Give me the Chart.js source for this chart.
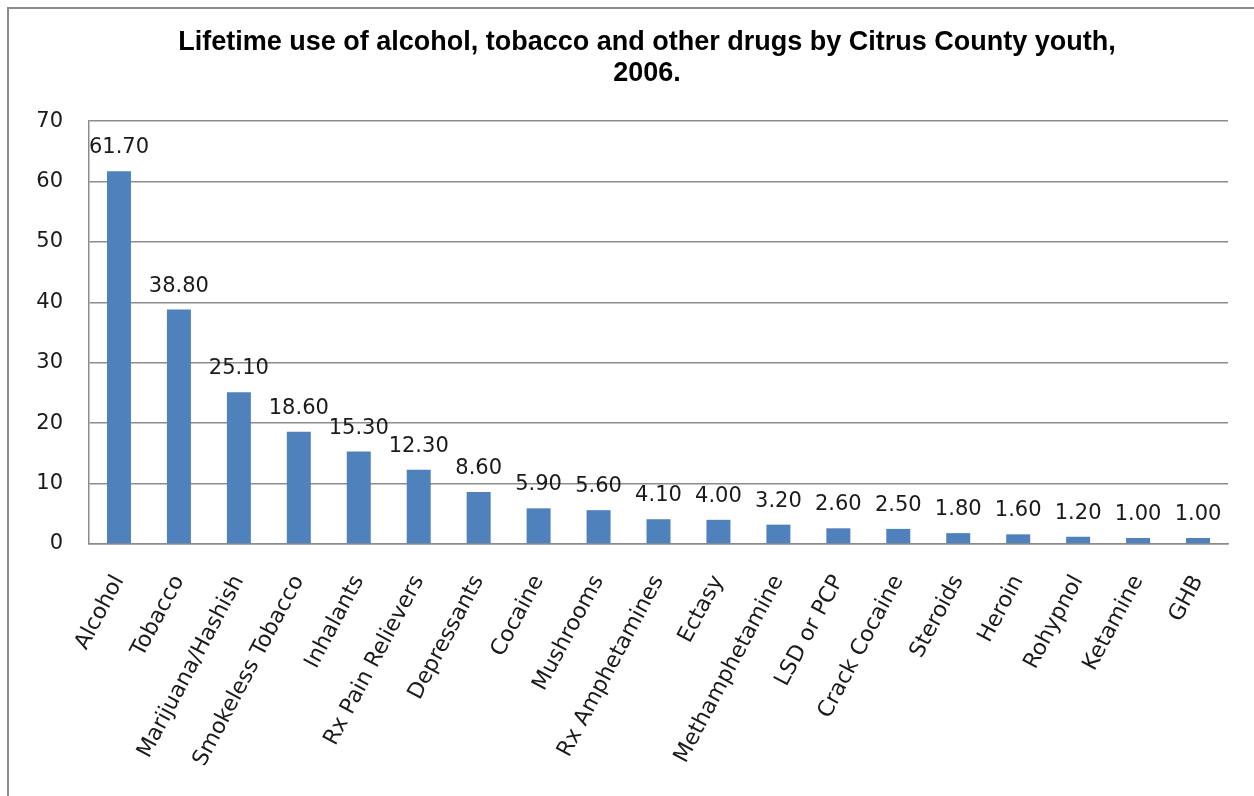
<!DOCTYPE html>
<html>
<head>
<meta charset="utf-8">
<script src="https://cdn.jsdelivr.net/npm/chart.js@4.4.1/dist/chart.umd.min.js"></script>
<style>
  html, body { margin: 0; padding: 0; background: #fff; overflow: hidden; }
  #frame {
    position: absolute; left: 7px; top: 7px;
    width: 1280px; height: 800px;
    border-left: 2px solid #8a8a8a; border-top: 2px solid #8a8a8a;
  }
  #wrap { position: absolute; left: 10px; top: 9px; width: 1274px; height: 787px; }
</style>
</head>
<body>
<div id="frame"></div>
<div id="wrap"><canvas id="myChart"></canvas></div>
<script>
const drugs = ['Alcohol', 'Tobacco', 'Marijuana/Hashish', 'Smokeless Tobacco', 'Inhalants',
  'Rx Pain Relievers', 'Depressants', 'Cocaine', 'Mushrooms', 'Rx Amphetamines', 'Ectasy',
  'Methamphetamine', 'LSD or PCP', 'Crack Cocaine', 'Steroids', 'Heroin', 'Rohypnol',
  'Ketamine', 'GHB'];
const lifetimeUse = [61.7, 38.8, 25.1, 18.6, 15.3, 12.3, 8.6, 5.9, 5.6, 4.1, 4.0, 3.2, 2.6,
  2.5, 1.8, 1.6, 1.2, 1.0, 1.0];
const yTicks = [0, 10, 20, 30, 40, 50, 60, 70];

const gridGray = '#8c8c8c';

// value labels above each bar
const barLabels = {
  id: 'barLabels',
  afterDatasetsDraw(chart) {
    const c = chart.ctx;
    const meta = chart.getDatasetMeta(0);
    c.save();
    c.font = '21px "DejaVu Sans"';
    c.fillStyle = '#1a1a1a';
    c.textAlign = 'center';
    c.textBaseline = 'alphabetic';
    meta.data.forEach((bar, i) => {
      c.fillText(lifetimeUse[i].toFixed(2), bar.x, bar.y - 18);
    });
    c.restore();
  },
};

const ctx = document.getElementById('myChart');

new Chart(ctx, {
  type: 'bar',
  data: {
    labels: drugs,
    datasets: [
      {
        data: lifetimeUse,
        backgroundColor: '#4f81bd',
        barPercentage: 0.4,
        categoryPercentage: 1,
      },
    ],
  },
  plugins: [barLabels],
  options: {
    responsive: true,
    maintainAspectRatio: false,
    animation: false,
    layout: { padding: 0 },
    plugins: {
      legend: { display: false },
      tooltip: { enabled: false },
      title: {
        display: true,
        text: ['Lifetime use of alcohol, tobacco and other drugs by Citrus County youth,', '2006.'],
        color: '#000',
        font: { family: '"Liberation Sans", Arial', size: 27, weight: 'bold', lineHeight: 1.15 },
        padding: { top: 18, bottom: 32 },
      },
    },
    scales: {
      x: {
        grid: { display: false, drawTicks: false },
        border: { color: gridGray, width: 1.5 },
        ticks: {
          autoSkip: false,
          maxRotation: 62,
          minRotation: 62,
          padding: 27,
          color: '#1a1a1a',
          font: { family: '"DejaVu Sans"', size: 22 },
        },
        afterFit(scale) { scale.height = 252; },
      },
      y: {
        min: 0,
        max: 70,
        afterBuildTicks(scale) { scale.ticks = yTicks.map((v) => ({ value: v })); },
        grid: { color: gridGray, lineWidth: 1.5, drawTicks: false },
        border: { color: gridGray, width: 1.5 },
        ticks: {
          padding: 26,
          color: '#1a1a1a',
          font: { family: '"DejaVu Sans"', size: 21 },
        },
        afterFit(scale) { scale.width = 79; },
      },
      // empty spacer on the right so the title centres like the original
      spacer: {
        position: 'right',
        grid: { display: false, drawTicks: false },
        border: { display: false },
        ticks: { display: false },
        afterFit(scale) { scale.width = 56; },
      },
    },
  },
});
</script>
</body>
</html>
